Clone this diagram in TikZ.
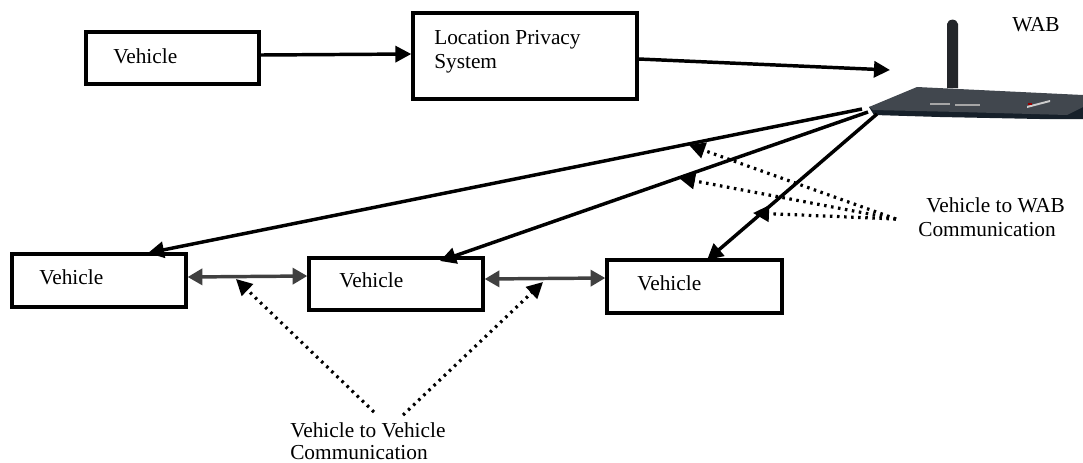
\documentclass[tikz,border=0pt]{standalone}
\usepackage{fontspec}
\setmainfont{Liberation Serif}
\usetikzlibrary{arrows.meta}
\definecolor{rtop}{HTML}{41474E}
\definecolor{rlip}{HTML}{16202A}
\definecolor{rant}{HTML}{23262A}
\tikzset{
 x=0.75pt,y=-0.75pt,
 vbox/.style={draw=black,line width=2.5pt,inner sep=0pt},
 lbl/.style={inner sep=0pt,font=\fontsize{16}{18}\selectfont,align=left},
 solidarrow/.style={draw=black,line width=2.6pt,-{Triangle[length=12pt,width=12pt]}},
 grayarrow/.style={draw=black!75,line width=2.6pt,{Triangle[length=11pt,width=12pt]}-{Triangle[length=11pt,width=12pt]}},
 dotarrow/.style={draw=black,line width=2.4pt,dash pattern=on 1.9pt off 3.4pt,-{Triangle[length=12pt,width=12pt]}},
}
\begin{document}
\begin{tikzpicture}
\useasboundingbox (0,0) rectangle (1083,462);
% router
\fill[rant] (947,88) -- (947,24) .. controls (948,18) and (957,18) .. (958,24) -- (958,88) -- cycle;
\fill[rlip] (869,107) -- (874,115) -- (940,117) -- (1040,119) -- (1083,119) -- (1083,100) -- (1000,100) -- cycle;
\fill[rtop] (869,107) -- (917,87) -- (1083,95) -- (1083,107) -- (1067,115) -- (960,112) -- (873,110) -- cycle;
\fill[black!35] (930,103) rectangle (950,104.5);
\fill[black!35] (955,104) rectangle (980,105.5);
\fill[black!20] (1027,106) -- (1050,100) -- (1050,102) -- (1027,108) -- cycle;
\fill[red!60!black] (1028,103) rectangle (1032,105);
\coordinate (rA) at (862,109);
\coordinate (rB) at (868,112);
\coordinate (rC) at (877,114);
\coordinate (rIn) at (890,70);
% boxes
\node[vbox,minimum width=129.75pt,minimum height=39pt] (v0) at (172.5,58) {};
\node[vbox,minimum width=168pt,minimum height=64.5pt] (lps) at (525,56) {};
\node[vbox,minimum width=130.5pt,minimum height=39.75pt] (v1) at (99,280.5) {};
\node[vbox,minimum width=130.5pt,minimum height=39pt] (v2) at (396,284) {};
\node[vbox,minimum width=131.25pt,minimum height=39.75pt] (v3) at (694.5,286.5) {};
% labels
\node[lbl,anchor=base west] (t0) at (113,63) {Vehicle};
\node[lbl,anchor=base west] (t1) at (434,44) {Location Privacy};
\node[lbl,anchor=base west] (t1b) at (434,68) {System};
\node[lbl,anchor=base west] (t2) at (39,284) {Vehicle};
\node[lbl,anchor=base west] (t3) at (339,287) {Vehicle};
\node[lbl,anchor=base west] (t4) at (637,290) {Vehicle};
\node[lbl,anchor=base west] (t5) at (1012,31) {WAB};
\node[lbl,anchor=base west] (t6) at (926,212) {Vehicle to WAB};
\node[lbl,anchor=base west] (t6b) at (918,236) {Communication};
\node[lbl,anchor=base west] (t7) at (290,437) {Vehicle to Vehicle};
\node[lbl,anchor=base west] (t7b) at (290,459) {Communication};
% solid
\draw[solidarrow] (v0.east|-0,55) -- (lps.west|-0,54);
\draw[solidarrow] (lps.east|-0,59) -- (rIn);
\draw[solidarrow] (rA) -- (148,253);
\draw[solidarrow] (rB) -- (440,261);
\draw[solidarrow] (rC) -- (707,260);
% grey
\draw[grayarrow] (v1.east|-0,277) -- (v2.west|-0,276);
\draw[grayarrow] (v2.east|-0,279) -- (v3.west|-0,278);
% dotted
\coordinate (w) at (896,219);
\coordinate (c1) at (374,412);
\coordinate (c2) at (403,415);
\draw[dotarrow] (w) -- (689,145);
\draw[dotarrow] (w) -- (679,178);
\draw[dotarrow] (w) -- (753,213);
\draw[dotarrow] (c1) -- (236,279);
\draw[dotarrow] (c2) -- (543,282);
\end{tikzpicture}
\end{document}
